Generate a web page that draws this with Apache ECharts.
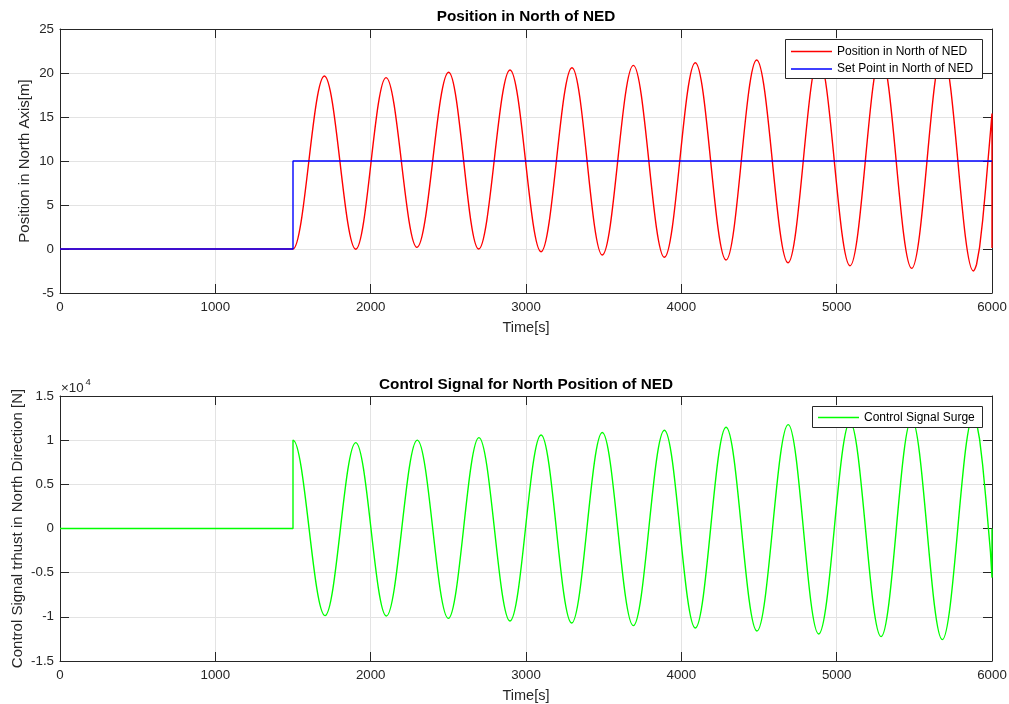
<!DOCTYPE html>
<html>
<head>
<meta charset="utf-8">
<script src="https://cdn.jsdelivr.net/npm/echarts@6/dist/echarts.min.js"></script>
<style>
  html, body { margin: 0; padding: 0; background: #ffffff; }
  #chart { width: 1009px; height: 704px; }
</style>
</head>
<body>
<div id="chart"></div>
<script>
// North position response: turning points of the oscillation, metres
const posTime = [0, 1500, 1702, 1904, 2099, 2298, 2502, 2695, 2897, 3097, 3296, 3491, 3691, 3891,
  4090, 4288, 4485, 4687, 4884, 5086, 5284, 5483, 5681, 5880, 5900];
const posNorth = [0, 0, 19.66, -0.03, 19.47, 0.19, 20.08, 0.0, 20.34, -0.31, 20.6, -0.68, 20.87, -0.94,
  21.17, -1.25, 21.48, -1.56, 21.8, -1.9, 22.1, -2.2, 22.4, -2.5, -1.8];
// last rise and the final sample at the end of the run
const posTailTime = [5900, 5920, 5940, 5960, 5974, 5990, 6000, 6000];
const posTailNorth = [-1.8, 0.19, 3.27, 7.1, 10.0, 13.3, 15.4, 0.1];

// Set point step, metres
const setTime = [0, 1500, 1500, 6000];
const setNorth = [0, 0, 10, 10];

// Surge control thrust: turning points, newtons
const ctrlTime = [0, 1500, 1500, 1706, 1904, 2101, 2300, 2500, 2697, 2897, 3097, 3294, 3491, 3691,
  3891, 4090, 4288, 4487, 4688, 4884, 5086, 5286, 5483, 5680, 5880, 5900];
const ctrlSurge = [0, 0, 10000, -9860, 9720, -9900, 10000, -10170, 10290, -10470, 10590, -10700,
  10860, -11000, 11120, -11260, 11460, -11600, 11760, -11940, 12050, -12240, 12380, -12580, 12700, 12040];
const ctrlTailTime = [5900, 5920, 5940, 5960, 5977, 5990, 6000, 6000];
const ctrlTailSurge = [12040, 10120, 7160, 3450, 0, -2650, -5560, 0];

const FONT = "'Liberation Sans', Arial, Helvetica, sans-serif";
const INK = '#262626';
const GRID = '#e3e3e3';
const LW = 1.4;

const zip = (xs, ys) => xs.map((x, i) => [x, ys[i]]);

function timeAxes(gridIndex) {
  const line = { show: true, onZero: false, lineStyle: { color: INK, width: 1 } };
  const tick = { show: true, inside: true, length: 9, lineStyle: { color: INK, width: 1 } };
  return [
    {
      type: 'value', gridIndex, position: 'bottom', min: 0, max: 6000, interval: 1000,
      name: 'Time[s]', nameLocation: 'middle', nameGap: 27, nameMoveOverlap: false,
      nameTextStyle: { fontFamily: FONT, fontSize: 14.5, color: INK },
      axisLine: line, axisTick: tick,
      axisLabel: { margin: 8, fontFamily: FONT, fontSize: 13.3, color: INK, formatter: v => String(v) },
      splitLine: { show: true, lineStyle: { color: GRID, width: 1 } }
    },
    {
      type: 'value', gridIndex, position: 'top', min: 0, max: 6000, interval: 1000,
      axisLine: line, axisTick: tick, axisLabel: { show: false }, splitLine: { show: false }
    }
  ];
}

function valueAxes(gridIndex, min, max, interval, name, nameGap, fmt) {
  const line = { show: true, onZero: false, lineStyle: { color: INK, width: 1 } };
  const tick = { show: true, inside: true, length: 9, lineStyle: { color: INK, width: 1 } };
  return [
    {
      type: 'value', gridIndex, position: 'left', min, max, interval,
      name, nameLocation: 'middle', nameGap, nameMoveOverlap: false,
      nameTextStyle: { fontFamily: FONT, fontSize: 15, color: INK },
      axisLine: line, axisTick: tick,
      axisLabel: { margin: 6, fontFamily: FONT, fontSize: 13.3, color: INK, formatter: fmt },
      splitLine: { show: true, lineStyle: { color: GRID, width: 1 } }
    },
    {
      type: 'value', gridIndex, position: 'right', min, max, interval,
      axisLine: line, axisTick: tick, axisLabel: { show: false }, splitLine: { show: false }
    }
  ];
}

// one legend entry per row, framed by the boxes drawn in `graphic`
function legendRow(name, left, top) {
  return {
    data: [name], left, top, orient: 'vertical', icon: 'rect',
    itemWidth: 41, itemHeight: 1.5, padding: 0, selectedMode: false, z: 6,
    textStyle: { fontFamily: FONT, fontSize: 12, color: '#000000' }
  };
}

// smoothed wave segments: horizontal tangents at every turning point
const wave = { type: 'line', symbol: 'none', clip: true, smooth: 0.36, smoothMonotone: 'x' };
const plain = { type: 'line', symbol: 'none', clip: true };

const chart = echarts.init(document.getElementById('chart'), null, { renderer: 'canvas' });

chart.setOption({
  animation: false,
  backgroundColor: '#ffffff',
  grid: [
    { left: 60, top: 29, width: 932, height: 264, containLabel: false, outerBoundsMode: 'none' },
    { left: 60, top: 396, width: 932, height: 265, containLabel: false, outerBoundsMode: 'none' }
  ],
  xAxis: [...timeAxes(0), ...timeAxes(1)],
  yAxis: [
    ...valueAxes(0, -5, 25, 5, 'Position in North Axis[m]', 27.5, v => String(v)),
    ...valueAxes(1, -15000, 15000, 5000, 'Control Signal trhust in North Direction [N]', 35,
      v => String(v / 10000))
  ],
  legend: [
    legendRow('Position in North of NED', 791, 45.5),
    legendRow('Set Point in North of NED', 791, 63),
    legendRow('Control Signal Surge', 818, 411.5)
  ],
  graphic: [
    {
      type: 'rect', z: 5, silent: true,
      shape: { x: 785.5, y: 39.5, width: 197, height: 39 },
      style: { fill: '#ffffff', stroke: INK, lineWidth: 1 }
    },
    {
      type: 'rect', z: 5, silent: true,
      shape: { x: 812.5, y: 406.5, width: 170, height: 21 },
      style: { fill: '#ffffff', stroke: INK, lineWidth: 1 }
    },
    {
      type: 'text', x: 526, y: 17, silent: true,
      style: { text: 'Position in North of NED', fill: '#000000', align: 'center', verticalAlign: 'middle',
        font: "bold 15.3px 'Liberation Sans', Arial, sans-serif" }
    },
    {
      type: 'text', x: 526, y: 385, silent: true,
      style: { text: 'Control Signal for North Position of NED', fill: '#000000', align: 'center',
        verticalAlign: 'middle', font: "bold 15.3px 'Liberation Sans', Arial, sans-serif" }
    },
    {
      type: 'text', x: 61, y: 388, silent: true,
      style: { text: '\u00d710', fill: INK, align: 'left', verticalAlign: 'middle',
        font: "13.3px 'Liberation Sans', Arial, sans-serif" }
    },
    {
      type: 'text', x: 85.5, y: 382, silent: true,
      style: { text: '4', fill: INK, align: 'left', verticalAlign: 'middle',
        font: "9.5px 'Liberation Sans', Arial, sans-serif" }
    }
  ],
  series: [
    Object.assign({}, wave, {
      name: 'Position in North of NED', xAxisIndex: 0, yAxisIndex: 0,
      data: zip(posTime, posNorth),
      lineStyle: { color: '#ff0000', width: LW }, itemStyle: { color: '#ff0000' }
    }),
    Object.assign({}, plain, {
      name: 'Position in North of NED', xAxisIndex: 0, yAxisIndex: 0,
      data: zip(posTailTime, posTailNorth),
      lineStyle: { color: '#ff0000', width: LW }, itemStyle: { color: '#ff0000' }
    }),
    Object.assign({}, plain, {
      name: 'Set Point in North of NED', xAxisIndex: 0, yAxisIndex: 0,
      data: zip(setTime, setNorth),
      lineStyle: { color: '#0000ff', width: LW }, itemStyle: { color: '#0000ff' }
    }),
    Object.assign({}, wave, {
      name: 'Control Signal Surge', xAxisIndex: 2, yAxisIndex: 2,
      data: zip(ctrlTime, ctrlSurge),
      lineStyle: { color: '#00ff00', width: LW }, itemStyle: { color: '#00ff00' }
    }),
    Object.assign({}, plain, {
      name: 'Control Signal Surge', xAxisIndex: 2, yAxisIndex: 2,
      data: zip(ctrlTailTime, ctrlTailSurge),
      lineStyle: { color: '#00ff00', width: LW }, itemStyle: { color: '#00ff00' }
    })
  ]
});
</script>
</body>
</html>
